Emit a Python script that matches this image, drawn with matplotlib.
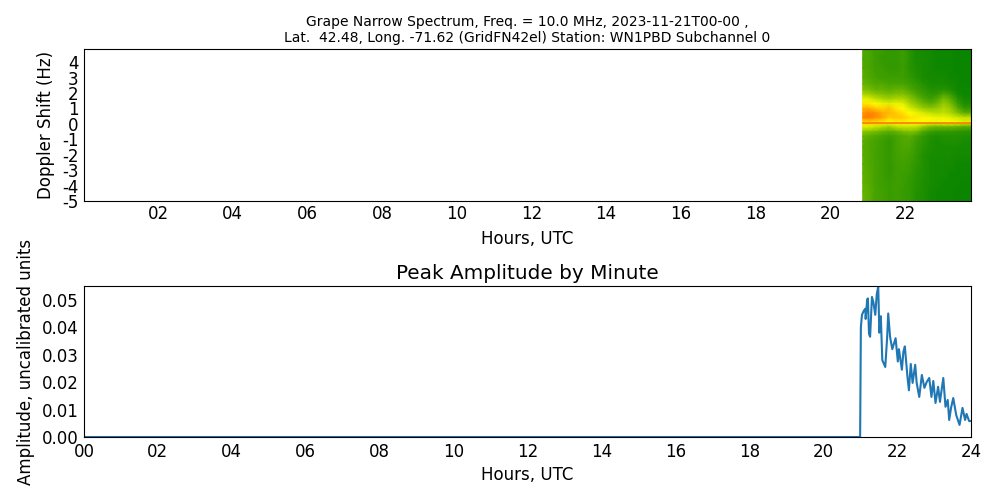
import matplotlib
matplotlib.use("Agg")
import matplotlib.pyplot as plt
from matplotlib.colors import LinearSegmentedColormap

# spectrogram, values read by eye: 0 = green, 5 = yellow, 10 = red
spec_hours = [20.87, 21.03, 21.21, 21.4, 21.58, 21.76, 21.95, 22.13, 22.31, 22.49,
              22.68, 22.86, 23.04, 23.22, 23.41, 23.59, 23.77]
spec_freqs = [4.85, 4.2, 3.6, 3.0, 2.6, 2.2, 1.9, 1.6, 1.3, 1.0, 0.7, 0.4, 0.1,
              -0.2, -0.5, -0.8, -1.1, -1.5, -2.0, -2.6, -3.2, -3.8, -4.4, -5.0]
spec_vals = [
    [1.5, 1.5, 1.2, 1.2, 1.0, 1.0, 1.2, 0.8, 0.5, 0.5, 0.4, 0.3, 0.3, 0.3, 0.2, 0.2, 0.2],
    [1.5, 1.5, 1.2, 1.0, 1.0, 1.0, 1.2, 0.8, 0.5, 0.5, 0.4, 0.3, 0.3, 0.3, 0.2, 0.2, 0.2],
    [1.6, 1.5, 1.2, 1.2, 1.0, 1.0, 1.2, 0.8, 0.6, 0.5, 0.4, 0.3, 0.3, 0.3, 0.2, 0.2, 0.2],
    [1.8, 1.6, 1.4, 1.2, 1.2, 1.2, 1.2, 1.0, 0.7, 0.5, 0.4, 0.4, 0.4, 0.3, 0.3, 0.2, 0.2],
    [2.0, 1.8, 1.6, 1.6, 1.4, 1.4, 1.4, 1.2, 1.0, 0.7, 0.5, 0.5, 0.5, 0.4, 0.3, 0.2, 0.2],
    [2.6, 2.4, 2.0, 2.0, 1.8, 2.0, 2.0, 1.6, 1.2, 1.0, 0.7, 0.7, 0.8, 0.6, 0.3, 0.3, 0.3],
    [3.4, 3.2, 2.8, 2.6, 2.4, 2.6, 2.6, 2.2, 1.6, 1.2, 0.9, 1.0, 1.6, 1.2, 0.5, 0.3, 0.3],
    [4.6, 4.4, 3.8, 3.4, 3.2, 3.4, 3.4, 2.8, 2.2, 1.6, 1.2, 1.6, 2.4, 1.8, 0.8, 0.4, 0.4],
    [5.5, 5.4, 5.0, 4.6, 4.4, 4.6, 4.4, 3.4, 2.8, 2.2, 1.8, 2.2, 3.0, 2.4, 1.2, 0.6, 0.6],
    [6.5, 6.6, 6.0, 5.8, 6.2, 5.4, 5.0, 4.2, 3.6, 3.0, 2.8, 3.0, 3.4, 3.0, 1.8, 1.0, 1.0],
    [7.0, 7.4, 7.2, 6.6, 6.4, 6.0, 5.6, 5.0, 4.6, 4.2, 3.8, 3.6, 3.8, 3.4, 2.6, 1.8, 1.8],
    [7.4, 7.6, 7.2, 6.8, 6.0, 6.2, 6.0, 5.6, 5.4, 5.2, 4.8, 4.6, 4.6, 4.4, 4.0, 3.8, 3.8],
    [5.6, 5.8, 5.6, 5.4, 5.0, 5.2, 5.2, 5.0, 5.0, 5.0, 4.8, 4.8, 5.0, 5.0, 4.8, 4.4, 4.4],
    [4.4, 4.4, 4.0, 3.6, 3.2, 3.8, 4.0, 4.0, 3.8, 3.0, 2.4, 2.2, 2.2, 2.2, 2.0, 1.8, 1.8],
    [2.8, 2.6, 2.4, 2.0, 1.8, 2.0, 2.4, 2.6, 2.4, 1.6, 1.2, 1.0, 1.0, 1.0, 0.9, 0.8, 0.8],
    [2.0, 1.8, 1.6, 1.4, 1.2, 1.4, 1.6, 1.8, 1.4, 1.0, 0.7, 0.6, 0.7, 0.7, 0.7, 0.6, 0.6],
    [1.8, 1.6, 1.4, 1.2, 1.0, 1.3, 1.6, 1.6, 1.2, 0.9, 0.6, 0.5, 0.6, 0.6, 0.6, 0.5, 0.5],
    [1.7, 1.6, 1.4, 1.2, 1.0, 1.3, 1.5, 1.5, 1.1, 0.8, 0.6, 0.5, 0.5, 0.5, 0.5, 0.4, 0.4],
    [1.7, 1.6, 1.3, 1.2, 1.0, 1.3, 1.4, 1.3, 1.0, 0.7, 0.5, 0.5, 0.5, 0.5, 0.4, 0.4, 0.4],
    [1.8, 1.6, 1.4, 1.2, 1.0, 1.2, 1.3, 1.2, 0.9, 0.7, 0.5, 0.4, 0.4, 0.4, 0.3, 0.3, 0.3],
    [1.8, 1.7, 1.4, 1.2, 1.0, 1.2, 1.2, 1.1, 0.8, 0.7, 0.5, 0.4, 0.4, 0.3, 0.3, 0.3, 0.3],
    [1.9, 1.7, 1.4, 1.2, 1.1, 1.2, 1.2, 1.0, 0.8, 0.6, 0.5, 0.4, 0.3, 0.3, 0.3, 0.2, 0.2],
    [2.0, 1.8, 1.4, 1.3, 1.1, 1.2, 1.1, 1.0, 0.7, 0.6, 0.4, 0.3, 0.3, 0.3, 0.2, 0.2, 0.2],
    [2.0, 1.8, 1.4, 1.3, 1.1, 1.2, 1.1, 1.0, 0.7, 0.6, 0.4, 0.3, 0.3, 0.3, 0.2, 0.2, 0.2],
]
# carrier line that runs across the band
carrier_hours = [20.87, 23.77]
carrier_freq = [0.08, 0.08]

# peak amplitude trace
amp_hours = [0.0, 21.0, 21.02, 21.05, 21.10, 21.14, 21.15, 21.19, 21.21, 21.24, 21.27, 21.32,
             21.36, 21.41, 21.45, 21.49, 21.52, 21.56, 21.60, 21.68, 21.73, 21.76, 21.81,
             21.87, 21.96, 22.02, 22.05, 22.13, 22.17, 22.21, 22.28, 22.32, 22.37, 22.42,
             22.49, 22.53, 22.60, 22.67, 22.74, 22.80, 22.87, 22.93, 22.98, 23.04, 23.11,
             23.16, 23.25, 23.31, 23.37, 23.41, 23.46, 23.52, 23.60, 23.69, 23.77, 23.84,
             23.88, 23.95, 24.0]
amps = [0.0, 0.0, 0.040, 0.0445, 0.046, 0.0467, 0.043, 0.050, 0.0505, 0.0376, 0.0365, 0.051,
        0.049, 0.0445, 0.052, 0.0548, 0.038, 0.044, 0.028, 0.0255, 0.036, 0.045, 0.0365,
        0.032, 0.036, 0.0275, 0.032, 0.0245, 0.031, 0.033, 0.022, 0.017, 0.0266, 0.0197,
        0.0263, 0.0197, 0.0146, 0.0226, 0.0179, 0.020, 0.0215, 0.0146, 0.0204, 0.0124, 0.0183,
        0.0128, 0.0215, 0.011, 0.0135, 0.0062, 0.0106, 0.0142, 0.008, 0.0044, 0.0106, 0.0062,
        0.0084, 0.0058, 0.0058]

top_ticks = [2, 4, 6, 8, 10, 12, 14, 16, 18, 20, 22]
bottom_ticks = [0, 2, 4, 6, 8, 10, 12, 14, 16, 18, 20, 22, 24]
freq_ticks = [-5, -4, -3, -2, -1, 0, 1, 2, 3, 4]
amp_ticks = [0.0, 0.01, 0.02, 0.03, 0.04, 0.05]

green_red = LinearSegmentedColormap.from_list("gyr", ["#008000", "#ffff00", "#ff0000"])

fig = plt.figure(figsize=(10, 5), dpi=100)
ax1 = fig.add_axes([0.084, 0.598, 0.887, 0.304])
ax2 = fig.add_axes([0.084, 0.126, 0.887, 0.302])

ax1.pcolormesh(spec_hours, spec_freqs, spec_vals, cmap=green_red, vmin=0, vmax=10, shading="gouraud")
ax1.plot(carrier_hours, carrier_freq, color="#ff7a00", linewidth=1.2)
ax1.set_xlim(0.02, 23.77)
ax1.set_ylim(-5, 4.85)
ax1.set_xticks(top_ticks)
ax1.set_xticklabels(["%02d" % h for h in top_ticks])
ax1.set_yticks(freq_ticks)
ax1.set_yticklabels([str(f) for f in freq_ticks])
ax1.tick_params(labelsize=12, length=0, pad=3)
ax1.tick_params(axis="y", pad=4)
ax1.set_xlabel("Hours, UTC", fontsize=12, labelpad=5)
ax1.set_ylabel("Doppler Shift (Hz)", fontsize=12, labelpad=5)
ax1.set_title("Grape Narrow Spectrum, Freq. = 10.0 MHz, 2023-11-21T00-00 ,\n"
              "Lat.  42.48, Long. -71.62 (GridFN42el) Station: WN1PBD Subchannel 0",
              fontsize=10, pad=5)

ax2.plot(amp_hours, amps, color="tab:blue", linewidth=1.5)
ax2.set_xlim(0, 24)
ax2.set_ylim(0, 0.055)
ax2.set_xticks(bottom_ticks)
ax2.set_xticklabels(["%02d" % h for h in bottom_ticks])
ax2.set_yticks(amp_ticks)
ax2.set_yticklabels(["%.2f" % a for a in amp_ticks])
ax2.tick_params(labelsize=12, length=0, pad=4)
ax2.tick_params(axis="y", pad=4)
ax2.set_xlabel("Hours, UTC", fontsize=12, labelpad=4)
ax2.set_ylabel("Amplitude, uncalibrated units", fontsize=12, labelpad=5)
ax2.set_title("Peak Amplitude by Minute", fontsize=14.4, pad=5)

fig.savefig("out.png", dpi=100)
